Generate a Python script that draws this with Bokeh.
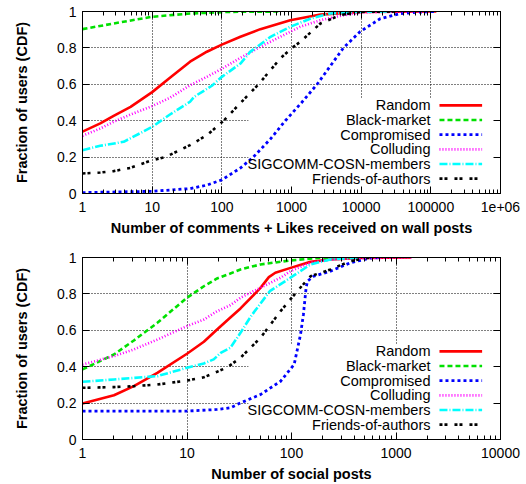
from bokeh.plotting import figure
from bokeh.models import LogAxis, LinearAxis, FixedTicker, BoxAnnotation
from bokeh.layouts import column
from bokeh.embed import file_html
from bokeh.resources import INLINE
from bokeh.core.properties import value

# ---------------- data ----------------
series_names = ["Random", "Black-market", "Compromised", "Colluding",
                "SIGCOMM-COSN-members", "Friends-of-authors"]

# Top panel: comments + likes received on wall posts
top_random_x = [1, 1.8, 2.8, 4.9, 10, 18, 35, 61, 100, 185, 357, 960, 2600, 9700, 120000]
top_random_y = [0.34, 0.385, 0.427, 0.476, 0.557, 0.636, 0.724, 0.779, 0.818, 0.861, 0.903, 0.952, 0.983, 0.998, 1.0]
top_black_market_x = [1, 2.8, 10, 35, 133, 700]
top_black_market_y = [0.903, 0.934, 0.971, 0.989, 0.998, 1.0]
top_compromised_x = [1, 10, 35, 61, 100, 185, 283, 500, 815, 1400, 2330, 3600, 5560, 9700, 18700, 36000, 70000, 120000]
top_compromised_y = [0.005, 0.012, 0.027, 0.046, 0.075, 0.14, 0.2, 0.3, 0.4, 0.5, 0.6, 0.7, 0.8, 0.89, 0.96, 0.988, 0.997, 1.0]
top_colluding_x = [1, 1.8, 2.8, 4.9, 10, 18, 35, 61, 100, 185, 357, 690, 1330, 2600, 5000, 9700, 30000, 100000]
top_colluding_y = [0.317, 0.357, 0.394, 0.434, 0.48, 0.526, 0.595, 0.641, 0.685, 0.746, 0.806, 0.861, 0.916, 0.952, 0.976, 0.994, 0.999, 1.0]
top_sigcomm_x = [1, 1.8, 3.9, 10, 18, 35, 40, 72, 100, 185, 255, 500, 960, 1900, 3600, 9700, 30000]
top_sigcomm_y = [0.238, 0.262, 0.284, 0.366, 0.434, 0.504, 0.531, 0.592, 0.641, 0.714, 0.778, 0.861, 0.916, 0.962, 0.989, 0.999, 1.0]
top_friends_x = [1, 1.8, 2.8, 4.9, 10, 15.5, 35, 61, 106, 185, 336, 690, 1020, 1330, 2600, 5000, 9700, 30000]
top_friends_y = [0.11, 0.115, 0.123, 0.141, 0.183, 0.2, 0.266, 0.32, 0.4, 0.497, 0.6, 0.742, 0.8, 0.833, 0.934, 0.98, 0.998, 1.0]

# Bottom panel: social posts
bot_random_x = [1, 2, 3.1, 5.2, 10, 14.5, 19.4, 26, 32.5, 50.5, 60.7, 70, 98, 152, 236, 458, 1400]
bot_random_y = [0.198, 0.243, 0.293, 0.366, 0.471, 0.537, 0.604, 0.67, 0.72, 0.833, 0.892, 0.916, 0.943, 0.976, 0.989, 0.997, 1.0]
bot_black_market_x = [1, 2, 3.1, 5.2, 10, 14.5, 19.4, 26, 32.5, 50.5, 98, 190, 400]
bot_black_market_y = [0.385, 0.467, 0.544, 0.641, 0.779, 0.842, 0.885, 0.912, 0.934, 0.962, 0.984, 0.998, 1.0]
bot_compromised_x = [1, 10, 19.4, 26, 32.5, 50.5, 78.6, 106, 122, 130, 138, 142, 163, 236, 365, 570, 700]
bot_compromised_y = [0.156, 0.156, 0.165, 0.174, 0.201, 0.247, 0.32, 0.412, 0.577, 0.687, 0.834, 0.87, 0.897, 0.925, 0.971, 0.997, 1.0]
bot_colluding_x = [1, 2, 3.1, 5.2, 10, 14.5, 19.4, 26, 32.5, 50.5, 78.6, 98, 152, 236, 458, 1400]
bot_colluding_y = [0.412, 0.458, 0.495, 0.549, 0.623, 0.659, 0.705, 0.738, 0.779, 0.834, 0.889, 0.925, 0.971, 0.989, 0.997, 1.0]
bot_sigcomm_x = [1, 2, 5.2, 10, 14.5, 18, 21, 26, 32.5, 41, 62, 98, 152, 236, 450]
bot_sigcomm_y = [0.317, 0.33, 0.348, 0.394, 0.418, 0.44, 0.476, 0.504, 0.586, 0.678, 0.815, 0.889, 0.962, 0.989, 1.0]
bot_friends_x = [1, 2, 3.1, 5.2, 10, 14.5, 19.4, 24.5, 32.5, 50.5, 78.6, 113.5, 152, 236, 365, 570]
bot_friends_y = [0.284, 0.288, 0.293, 0.302, 0.324, 0.342, 0.372, 0.398, 0.449, 0.559, 0.705, 0.815, 0.897, 0.934, 0.98, 1.0]

top_x_ticks = [1, 10, 100, 1000, 10000, 100000, 1000000]
top_x_tick_labels = ["1", "10", "100", "1000", "10000", "100000", "1e+06"]
bot_x_ticks = [1, 10, 100, 1000, 10000]
bot_x_tick_labels = ["1", "10", "100", "1000", "10000"]
y_ticks = [0, 0.2, 0.4, 0.6, 0.8, 1]
y_tick_labels = ["0", "0.2", "0.4", "0.6", "0.8", "1"]

top_xlabel = "Number of comments + Likes received on wall posts"
bot_xlabel = "Number of social posts"
ylabel = "Fraction of users (CDF)"

# ---------------- styles ----------------
FONT = "Liberation Sans"
STYLES = [
    dict(line_color="#ff0000", line_dash="solid", line_width=2.6),
    dict(line_color="#00e000", line_dash="5 3", line_width=2.6),
    dict(line_color="#0000ff", line_dash="3 3", line_width=2.8),
    dict(line_color="#ff00ff", line_dash="1 2", line_width=2.6),
    dict(line_color="#00ffff", line_dash="8 2 1 2", line_width=2.6),
    dict(line_color="#000000", line_dash="3 2 3 7", line_width=2.6),
]


def style_axis(ax, labels_visible=True):
    ax.axis_line_color = "black"
    ax.axis_line_width = 1
    ax.major_tick_line_color = "black"
    ax.minor_tick_line_color = "black"
    ax.major_tick_in = 7
    ax.major_tick_out = 0
    ax.minor_tick_in = 4
    ax.minor_tick_out = 0
    ax.major_label_text_font = FONT
    ax.major_label_text_color = "black"
    ax.axis_label_text_font = FONT
    ax.axis_label_text_font_style = "bold"
    ax.axis_label_text_font_size = "14.5px"
    ax.axis_label_text_color = "black"
    if labels_visible:
        ax.major_label_text_font_size = "14px"
    else:
        ax.major_label_text_font_size = "2px"
        ax.major_label_text_alpha = 0
        ax.major_label_standoff = 0


def make_panel(series, x_ticks, x_tick_labels, xlabel, border_top, border_bottom):
    xmin, xmax = x_ticks[0], x_ticks[-1]
    p = figure(width=526, height=242, x_axis_type="log", x_range=(xmin, xmax),
               y_range=(0, 1), output_backend="svg", toolbar_location=None,
               min_border_left=82, min_border_right=26,
               min_border_top=border_top, min_border_bottom=border_bottom)
    p.outline_line_color = "black"
    p.outline_line_width = 1
    p.background_fill_color = "white"
    p.border_fill_color = "white"

    minor = [m * 10 ** k for k in range(len(x_ticks) - 1) for m in range(2, 10)]
    xt = FixedTicker(ticks=x_ticks, minor_ticks=minor)
    yt = FixedTicker(ticks=y_ticks, minor_ticks=[])
    xover = {t: l for t, l in zip(x_ticks, x_tick_labels)}
    yover = {t: l for t, l in zip(y_ticks, y_tick_labels)}

    xa = p.xaxis[0]
    xa.ticker = xt
    xa.major_label_overrides = xover
    xa.axis_label = xlabel
    xa.major_label_standoff = 8
    xa.axis_label_standoff = 5
    style_axis(xa)

    ya = p.yaxis[0]
    ya.ticker = yt
    ya.major_label_overrides = yover
    ya.axis_label = ylabel
    ya.major_label_standoff = 6
    ya.axis_label_standoff = 24
    style_axis(ya)

    top_ax = LogAxis(ticker=xt)
    style_axis(top_ax, labels_visible=False)
    p.add_layout(top_ax, "above")
    right_ax = LinearAxis(ticker=yt)
    style_axis(right_ax, labels_visible=False)
    p.add_layout(right_ax, "right")

    for g in (p.xgrid[0], p.ygrid[0]):
        g.grid_line_color = "black"
        g.grid_line_dash = "1 2"
        g.grid_line_width = 1
        g.grid_line_alpha = 1.0
    p.xgrid[0].ticker = xt
    p.ygrid[0].ticker = yt

    def fx(f):
        return xmin * (xmax / xmin) ** f

    # opaque key area hiding the grid
    box = BoxAnnotation(left=fx(0.397), right=xmax, bottom=0, top=0.522,
                        fill_color="white", fill_alpha=1.0, line_alpha=0,
                        level="underlay")
    p.add_layout(box)

    for (xs, ys), st in zip(series, STYLES):
        p.line(xs, ys, line_cap="butt", line_join="round", **st)

    # key (text right-aligned, sample on the right)
    for i, (name, st) in enumerate(zip(series_names, STYLES)):
        yy = 0.484 - i * 0.0805
        p.text(x=[fx(0.8325)], y=[yy], text=[name], text_align="right",
               text_baseline="middle", text_font=value(FONT),
               text_font_size="14.5px", text_color="black")
        p.line([fx(0.854), fx(0.956)], [yy, yy], line_cap="butt", **st)
    return p


top_series = [
    (top_random_x, top_random_y),
    (top_black_market_x, top_black_market_y),
    (top_compromised_x, top_compromised_y),
    (top_colluding_x, top_colluding_y),
    (top_sigcomm_x, top_sigcomm_y),
    (top_friends_x, top_friends_y),
]
bot_series = [
    (bot_random_x, bot_random_y),
    (bot_black_market_x, bot_black_market_y),
    (bot_compromised_x, bot_compromised_y),
    (bot_colluding_x, bot_colluding_y),
    (bot_sigcomm_x, bot_sigcomm_y),
    (bot_friends_x, bot_friends_y),
]

p1 = make_panel(top_series, top_x_ticks, top_x_tick_labels, top_xlabel, 11, 49)
p2 = make_panel(bot_series, bot_x_ticks, bot_x_tick_labels, bot_xlabel, 15, 45)

layout = column(p1, p2, spacing=0)
open("out.html", "w").write(file_html(layout, INLINE))
